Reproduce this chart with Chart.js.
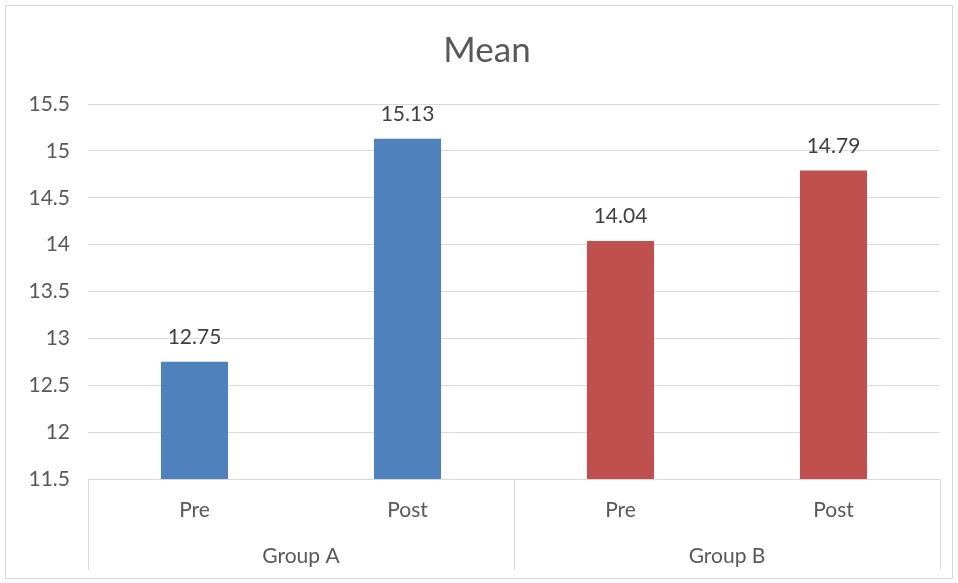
<!DOCTYPE html>
<html>
<head>
<meta charset="utf-8">
<script src="https://cdn.jsdelivr.net/npm/chart.js@4"></script>
<style>
  html, body { margin: 0; padding: 0; background: #fff; }
  #wrap { width: 958px; height: 583px; }
</style>
</head>
<body>
<div id="wrap"><canvas id="myChart" width="958" height="583"></canvas></div>
<script>
var categories = ['Pre', 'Post', 'Pre', 'Post'];
var groups = ['Group A', 'Group B'];
var groupSize = 2;
var means = [12.75, 15.13, 14.04, 14.79];
var barColors = ['#4F81BD', '#4F81BD', '#C0504D', '#C0504D'];
var yMin = 11.5, yMax = 15.5, yStep = 0.5;
var titleText = 'Mean';

var FONT = 'Lato, "Noto Sans", sans-serif';

// outer border of the chart + title, like the Excel chart frame
var frame = {
    id: 'frame',
    beforeDraw: function (chart) {
        var ctx = chart.ctx;
        ctx.save();
        ctx.fillStyle = '#fff';
        ctx.fillRect(0, 0, chart.width, chart.height);
        ctx.strokeStyle = '#d9d9d9';
        ctx.lineWidth = 1;
        ctx.strokeRect(5.5, 5.5, chart.width - 11, chart.height - 10);
        ctx.font = '35px ' + FONT;
        ctx.fillStyle = '#595959';
        ctx.textAlign = 'center';
        ctx.textBaseline = 'alphabetic';
        ctx.fillText(titleText, 487, 62);
        ctx.restore();
    }
};

// value labels above bars
var valueLabels = {
    id: 'valueLabels',
    afterDatasetsDraw: function (chart) {
        var ctx = chart.ctx;
        var meta = chart.getDatasetMeta(0);
        ctx.save();
        ctx.font = '21px ' + FONT;
        ctx.fillStyle = '#404040';
        ctx.textAlign = 'center';
        ctx.textBaseline = 'alphabetic';
        meta.data.forEach(function (bar, i) {
            ctx.fillText(means[i].toFixed(2), bar.x, bar.y - 18);
        });
        ctx.restore();
    }
};

// second level of the category axis (group boxes + names)
var groupAxis = {
    id: 'groupAxis',
    afterDraw: function (chart) {
        var ctx = chart.ctx;
        var area = chart.chartArea;
        var bottom = chart.height - 13;
        var step = (area.right - area.left) / categories.length;
        ctx.save();
        ctx.strokeStyle = '#d9d9d9';
        ctx.lineWidth = 1;
        for (var g = 0; g <= groups.length; g++) {
            var px = Math.round(area.left + g * groupSize * step) + 0.5;
            ctx.beginPath();
            ctx.moveTo(px, area.bottom);
            ctx.lineTo(px, bottom);
            ctx.stroke();
        }
        ctx.font = '21px ' + FONT;
        ctx.fillStyle = '#595959';
        ctx.textAlign = 'center';
        ctx.textBaseline = 'middle';
        groups.forEach(function (name, g) {
            var cx = area.left + (g * groupSize + groupSize / 2) * step;
            ctx.fillText(name, cx, 556);
        });
        ctx.restore();
    }
};

var c = document.getElementById('myChart');
var ctx = c.getContext('2d');

var chart = new Chart(ctx, {
    type: 'bar',
    data: {
        labels: categories,
        datasets: [{
            label: 'Mean',
            data: means,
            backgroundColor: barColors,
            borderWidth: 0,
            categoryPercentage: 1,
            barPercentage: 0.315
        }]
    },
    options: {
        responsive: false,
        animation: false,
        layout: { padding: { left: 5, right: 18, top: 104, bottom: 5 } },
        plugins: {
            legend: { display: false },
            tooltip: { enabled: false },
            title: { display: false }
        },
        scales: {
            x: {
                grid: { display: false },
                border: { display: false },
                ticks: {
                    color: '#595959',
                    font: { family: FONT, size: 21 },
                    padding: 11,
                    maxRotation: 0
                },
                afterFit: function (scale) { scale.height = 99; }
            },
            y: {
                min: yMin,
                max: yMax,
                grid: { color: '#d9d9d9', drawTicks: false, lineWidth: 1 },
                border: { display: false },
                ticks: {
                    stepSize: yStep,
                    color: '#595959',
                    font: { family: FONT, size: 21 },
                    padding: 18,
                    callback: function (v) { return String(Math.round(v * 10) / 10); }
                },
                afterFit: function (scale) { scale.width = 83; }
            }
        }
    },
    plugins: [frame, valueLabels, groupAxis]
});
</script>
</body>
</html>
